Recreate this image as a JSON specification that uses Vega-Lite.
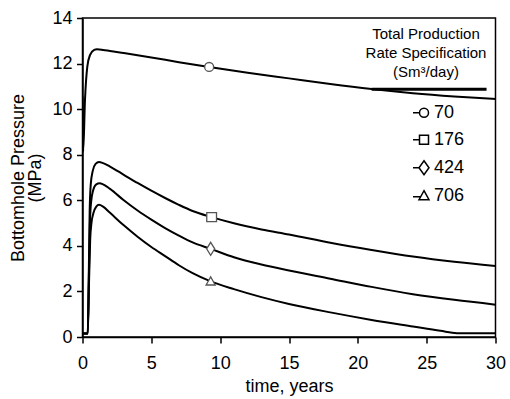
{
  "$schema": "https://vega.github.io/schema/vega-lite/v6.json",
  "width": 413,
  "height": 319,
  "autosize": {"type": "none"},
  "padding": {"left": 82.5, "top": 18, "right": 14.5, "bottom": 62},
  "background": "white",
  "config": {
    "font": "Liberation Sans",
    "view": {"stroke": "black", "strokeWidth": 1.5},
    "axis": {
      "grid": false,
      "domainColor": "black",
      "domainWidth": 1.5,
      "tickColor": "black",
      "tickWidth": 1.5,
      "tickSize": 6,
      "labelColor": "black",
      "labelFont": "Liberation Sans",
      "labelFontSize": 18,
      "titleColor": "black",
      "titleFont": "Liberation Sans",
      "titleFontSize": 18,
      "titleFontWeight": "normal"
    }
  },
  "datasets": {
    "curves": [
      {"rate": 70, "t": 0, "p": 10.55}, {"rate": 70, "t": 0.05, "p": 8.14}, {"rate": 70, "t": 0.18, "p": 10.4},
      {"rate": 70, "t": 0.35, "p": 11.87}, {"rate": 70, "t": 0.55, "p": 12.38}, {"rate": 70, "t": 0.85, "p": 12.6},
      {"rate": 70, "t": 1.05, "p": 12.63}, {"rate": 70, "t": 1.5, "p": 12.6}, {"rate": 70, "t": 2, "p": 12.55},
      {"rate": 70, "t": 3, "p": 12.46}, {"rate": 70, "t": 5, "p": 12.27}, {"rate": 70, "t": 7, "p": 12.06},
      {"rate": 70, "t": 9.2, "p": 11.85}, {"rate": 70, "t": 12, "p": 11.6}, {"rate": 70, "t": 15, "p": 11.35},
      {"rate": 70, "t": 18, "p": 11.1}, {"rate": 70, "t": 21, "p": 10.88}, {"rate": 70, "t": 24, "p": 10.7},
      {"rate": 70, "t": 27, "p": 10.56}, {"rate": 70, "t": 30, "p": 10.45},

      {"rate": 176, "t": 0, "p": 0.15}, {"rate": 176, "t": 0.38, "p": 0.15}, {"rate": 176, "t": 0.45, "p": 2.5},
      {"rate": 176, "t": 0.52, "p": 5.5}, {"rate": 176, "t": 0.6, "p": 6.7}, {"rate": 176, "t": 0.75, "p": 7.3},
      {"rate": 176, "t": 0.95, "p": 7.6}, {"rate": 176, "t": 1.2, "p": 7.68}, {"rate": 176, "t": 1.5, "p": 7.63},
      {"rate": 176, "t": 2, "p": 7.48}, {"rate": 176, "t": 3, "p": 7.12}, {"rate": 176, "t": 4, "p": 6.76},
      {"rate": 176, "t": 5, "p": 6.42}, {"rate": 176, "t": 6, "p": 6.1}, {"rate": 176, "t": 7, "p": 5.8},
      {"rate": 176, "t": 8, "p": 5.53}, {"rate": 176, "t": 9.38, "p": 5.26}, {"rate": 176, "t": 11, "p": 4.99},
      {"rate": 176, "t": 13, "p": 4.72}, {"rate": 176, "t": 15, "p": 4.5}, {"rate": 176, "t": 18, "p": 4.14},
      {"rate": 176, "t": 21, "p": 3.82}, {"rate": 176, "t": 24, "p": 3.53}, {"rate": 176, "t": 27, "p": 3.3},
      {"rate": 176, "t": 30, "p": 3.12},

      {"rate": 424, "t": 0, "p": 0.15}, {"rate": 424, "t": 0.38, "p": 0.15}, {"rate": 424, "t": 0.46, "p": 2.5},
      {"rate": 424, "t": 0.54, "p": 5.0}, {"rate": 424, "t": 0.62, "p": 5.9}, {"rate": 424, "t": 0.78, "p": 6.45},
      {"rate": 424, "t": 1.0, "p": 6.7}, {"rate": 424, "t": 1.25, "p": 6.75}, {"rate": 424, "t": 1.5, "p": 6.7},
      {"rate": 424, "t": 2, "p": 6.5}, {"rate": 424, "t": 3, "p": 6.0}, {"rate": 424, "t": 4, "p": 5.55},
      {"rate": 424, "t": 5, "p": 5.15}, {"rate": 424, "t": 6, "p": 4.78}, {"rate": 424, "t": 7, "p": 4.45},
      {"rate": 424, "t": 8, "p": 4.15}, {"rate": 424, "t": 9.31, "p": 3.87}, {"rate": 424, "t": 11, "p": 3.5},
      {"rate": 424, "t": 13, "p": 3.18}, {"rate": 424, "t": 15, "p": 2.92}, {"rate": 424, "t": 18, "p": 2.56},
      {"rate": 424, "t": 21, "p": 2.2}, {"rate": 424, "t": 24, "p": 1.88}, {"rate": 424, "t": 27, "p": 1.63},
      {"rate": 424, "t": 30, "p": 1.42},

      {"rate": 706, "t": 0, "p": 0.15}, {"rate": 706, "t": 0.38, "p": 0.15}, {"rate": 706, "t": 0.47, "p": 2.3},
      {"rate": 706, "t": 0.56, "p": 4.3}, {"rate": 706, "t": 0.65, "p": 5.0}, {"rate": 706, "t": 0.8, "p": 5.45},
      {"rate": 706, "t": 1.0, "p": 5.72}, {"rate": 706, "t": 1.2, "p": 5.8}, {"rate": 706, "t": 1.5, "p": 5.72},
      {"rate": 706, "t": 2, "p": 5.45}, {"rate": 706, "t": 3, "p": 4.9}, {"rate": 706, "t": 4, "p": 4.4},
      {"rate": 706, "t": 5, "p": 3.95}, {"rate": 706, "t": 6, "p": 3.55}, {"rate": 706, "t": 7, "p": 3.15},
      {"rate": 706, "t": 8, "p": 2.8}, {"rate": 706, "t": 9.31, "p": 2.44}, {"rate": 706, "t": 11, "p": 2.1},
      {"rate": 706, "t": 13, "p": 1.75}, {"rate": 706, "t": 15, "p": 1.45}, {"rate": 706, "t": 18, "p": 1.08},
      {"rate": 706, "t": 21, "p": 0.75}, {"rate": 706, "t": 24, "p": 0.46}, {"rate": 706, "t": 26, "p": 0.27},
      {"rate": 706, "t": 27.2, "p": 0.17}, {"rate": 706, "t": 30, "p": 0.17}
    ],
    "plateau": [
      {"t": 21.0, "p": 10.87},
      {"t": 29.35, "p": 10.87}
    ],
    "markers": [
      {"rate": 70, "t": 9.2, "p": 11.85},
      {"rate": 176, "t": 9.38, "p": 5.26},
      {"rate": 424, "t": 9.31, "p": 3.87},
      {"rate": 706, "t": 9.31, "p": 2.44}
    ],
    "keys": [
      {"rate": 70, "t": -5, "p": -10},
      {"rate": 176, "t": -5, "p": -10},
      {"rate": 424, "t": -5, "p": -10},
      {"rate": 706, "t": -5, "p": -10}
    ]
  },
  "encoding": {
    "x": {
      "field": "t",
      "type": "quantitative",
      "scale": {"domain": [0, 30], "nice": false, "zero": false},
      "axis": {
        "title": "time, years",
        "values": [0, 5, 10, 15, 20, 25, 30],
        "labelPadding": 11,
        "labelFlush": false,
        "labelOverlap": false,
        "titleY": 40,
        "titleBaseline": "top"
      }
    },
    "y": {
      "field": "p",
      "type": "quantitative",
      "scale": {"domain": [0, 14], "nice": false, "zero": false},
      "axis": {
        "title": ["Bottomhole Pressure", "(MPa)"],
        "values": [0, 2, 4, 6, 8, 10, 12, 14],
        "labelPadding": 4.5,
        "labelFlush": false,
        "labelOverlap": false,
        "titleX": -73,
        "titleY": 159.5,
        "titleAngle": -90,
        "titleAlign": "center",
        "titleBaseline": "top",
        "titleLineHeight": 17
      }
    }
  },
  "layer": [
    {
      "data": {"name": "curves"},
      "mark": {"type": "line", "color": "black", "strokeWidth": 2, "interpolate": "monotone", "clip": true},
      "encoding": {
        "detail": {"field": "rate", "type": "nominal"},
        "order": {"field": "t", "type": "quantitative"}
      }
    },
    {
      "data": {"name": "plateau"},
      "mark": {"type": "line", "color": "black", "strokeWidth": 3},
      "encoding": {}
    },
    {
      "data": {"name": "markers"},
      "mark": {"type": "point", "filled": true, "fill": "white", "stroke": "#555555", "strokeWidth": 1.3, "opacity": 1, "size": 169},
      "encoding": {
        "shape": {
          "field": "rate",
          "type": "ordinal",
          "scale": {
            "domain": [70, 176, 424, 706],
            "range": [
              "M-0.69,0A0.69,0.69 0 1,1 0.69,0A0.69,0.69 0 1,1 -0.69,0Z",
              "M-0.75,-0.7H0.75V0.7H-0.75Z",
              "M0,-1L0.62,0L0,1L-0.62,0Z",
              "M0,-0.7L0.7,0.55L-0.7,0.55Z"
            ]
          },
          "legend": null
        }
      }
    },
    {
      "data": {"name": "keys"},
      "mark": {"type": "point", "filled": false, "color": "black", "strokeWidth": 1.3, "opacity": 1, "size": 100},
      "encoding": {
        "shape": {
          "field": "rate",
          "type": "ordinal",
          "scale": {
            "domain": [70, 176, 424, 706],
            "range": [
              "M3.2,0L4.5,0M4.5,0A0.9,0.9 0 1,1 6.3,0A0.9,0.9 0 1,1 4.5,0Z",
              "M3.2,0L4.5,0M4.5,-0.9L6.3,-0.9L6.3,0.9L4.5,0.9Z",
              "M3.2,0L4.4,0M5.4,-1.4L6.4,0L5.4,1.4L4.4,0Z",
              "M3.2,0.2L4.73,0.2M5.4,-1L6.4,0.8L4.4,0.8Z"
            ]
          },
          "legend": {
            "orient": "none",
            "legendX": 283.5,
            "legendY": 9.2,
            "padding": 0,
            "title": ["Total Production\u00a0\u00a0\u00a0\u00a0", "Rate Specification\u00a0\u00a0\u00a0\u00a0", "(Sm³/day)\u00a0\u00a0\u00a0\u00a0"],
            "titleAnchor": "middle",
            "titleAlign": "center",
            "titleFont": "Liberation Sans",
            "titleFontSize": 15,
            "titleFontWeight": "normal",
            "titleColor": "black",
            "titleLineHeight": 19,
            "titleLimit": 300,
            "titlePadding": 23.5,
            "labelFont": "Liberation Sans",
            "labelFontSize": 18,
            "labelColor": "black",
            "labelOffset": 28,
            "rowPadding": 9,
            "symbolSize": 100
          }
        }
      }
    }
  ],
  "resolve": {"scale": {"shape": "independent"}}
}
